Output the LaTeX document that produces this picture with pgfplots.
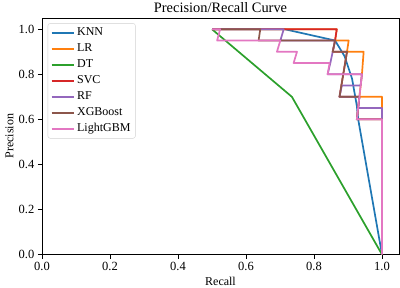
\documentclass[border=0pt]{standalone}
\usepackage{fontspec}
\setmainfont{Liberation Serif}
\usepackage{pgfplots}
\pgfplotsset{compat=1.18}
\definecolor{c0}{HTML}{1F77B4}
\definecolor{c1}{HTML}{FF7F0E}
\definecolor{c2}{HTML}{2CA02C}
\definecolor{c3}{HTML}{D62728}
\definecolor{c4}{HTML}{9467BD}
\definecolor{c5}{HTML}{8C564B}
\definecolor{c6}{HTML}{E377C2}
\begin{document}
\begin{tikzpicture}
\begin{axis}[
  at={(42pt,33.5pt)}, anchor=south west,
  scale only axis, width=357pt, height=236.5pt,
  xmin=0, xmax=1.05, ymin=0, ymax=1.05,
  xtick={0,0.2,0.4,0.6,0.8,1.0}, ytick={0,0.2,0.4,0.6,0.8,1.0},
  tick align=outside, xtick pos=bottom, ytick pos=left,
  major tick length=4.2pt,
  tick style={black, line width=0.8pt},
  axis line style={black, line width=0.8pt},
  ticklabel style={font=\fontsize{12.5}{14}\selectfont},
  /pgf/number format/.cd, fixed, fixed zerofill, precision=1, assume math mode=true,
  /pgfplots/.cd,
  title={Precision/Recall Curve},
  every axis title/.style={font=\fontsize{14.4}{16}\selectfont, anchor=base, at={(axis description cs:0.5,1.0237)}},
  xlabel={Recall},
  xlabel style={font=\fontsize{12}{14}\selectfont, anchor=base, at={(axis description cs:0.5,-0.129)}},
  ylabel={Precision},
  ylabel style={font=\fontsize{12}{14}\selectfont, anchor=base, at={(axis description cs:-0.0804,0.5)}},
  legend cell align=left,
  legend image code/.code={\draw[#1] (0pt,0pt) -- (22.6pt,0pt);},
  legend style={at={(axis description cs:0.0157,0.978)}, anchor=north west,
    draw=black!18, rounded corners=2.5pt, fill=white, fill opacity=0.8, text opacity=1,
    font=\fontsize{12}{13}\selectfont,
    nodes={text height=8.5pt, text depth=2.5pt, inner ysep=2pt},
    row sep=1pt},
  every axis plot/.append style={line width=1.7pt, line join=round},
]
\addplot[c0] coordinates {(0.5,1.0) (0.714,1.0) (0.862,0.95) (0.89,0.88) (0.912,0.78) (0.926,0.66) (0.93,0.6) (1.0,0.0)};
\addlegendentry{KNN}
\addplot[c1] coordinates {(0.5,1.0) (0.867,1.0) (0.862,0.95) (0.902,0.95) (0.897,0.9) (0.946,0.9) (0.941,0.8) (0.9335,0.7) (1.0,0.7) (1.0,0.0)};
\addlegendentry{LR}
\addplot[c2] coordinates {(0.5,1.0) (0.735,0.7) (1.0,0.0)};
\addlegendentry{DT}
\addplot[c3] coordinates {(0.5,1.0) (0.867,1.0) (0.862,0.95) (0.855,0.9) (0.897,0.9) (0.875,0.7) (0.9335,0.7) (0.926,0.6) (1.0,0.6) (1.0,0.0)};
\addlegendentry{SVC}
\addplot[c4] coordinates {(0.5,1.0) (0.711,1.0) (0.701,0.95) (0.862,0.95) (0.855,0.9) (0.848,0.85) (0.84,0.8) (0.941,0.8) (0.937,0.75) (0.882,0.75) (0.875,0.7) (0.9335,0.7) (0.93,0.65) (1.0,0.65) (1.0,0.0)};
\addlegendentry{RF}
\addplot[c5] coordinates {(0.5,1.0) (0.642,1.0) (0.637,0.95) (0.862,0.95) (0.855,0.9) (0.897,0.9) (0.875,0.7) (0.9335,0.7) (0.926,0.6) (1.0,0.6) (1.0,0.0)};
\addlegendentry{XGBoost}
\addplot[c6] coordinates {(0.5,1.0) (0.524,1.0) (0.515,0.95) (0.701,0.95) (0.691,0.9) (0.75,0.9) (0.74,0.85) (0.846,0.85) (0.84,0.8) (0.941,0.8) (0.926,0.6) (1.0,0.6) (1.0,0.0)};
\addlegendentry{LightGBM}
\end{axis}
\pgfresetboundingbox
\path (0,0) rectangle (400pt,288pt);
\end{tikzpicture}
\end{document}
